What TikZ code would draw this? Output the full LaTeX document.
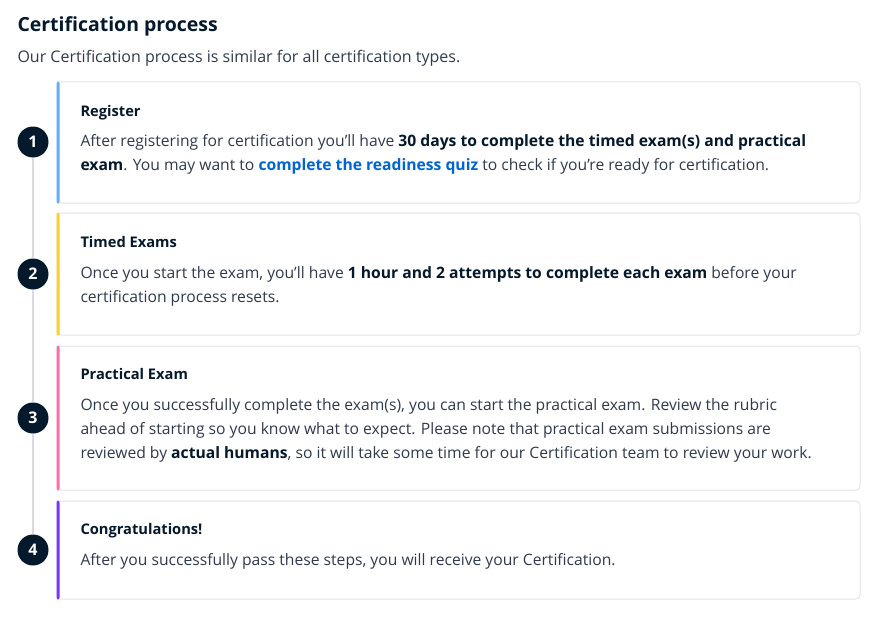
\documentclass[tikz,border=0pt]{standalone}
\usepackage{fontspec}
\setmainfont{Open Sans}
\definecolor{navy}{RGB}{5,25,45}
\definecolor{bodytext}{RGB}{48,58,78}
\definecolor{linkblue}{RGB}{0,101,209}
\definecolor{cardline}{RGB}{228,227,235}
\definecolor{railgray}{RGB}{218,217,229}
\definecolor{stepblue}{RGB}{94,178,252}
\definecolor{stepyellow}{RGB}{255,206,40}
\definecolor{steppink}{RGB}{255,110,168}
\definecolor{steppurple}{RGB}{122,52,255}
\tikzset{every picture/.style={line width=0.75pt}}
\tikzset{
  card/.style={draw=cardline, fill=white, rounded corners=3pt, inner sep=0pt, minimum width=602.25pt},
  stepnum/.style={circle, fill=navy, text=white, inner sep=0pt, minimum size=23.25pt, font=\fontsize{12}{12}\bfseries\selectfont},
  cardhead/.style={anchor=base west, inner sep=0pt, text=navy, font=\fontsize{11}{14}\bfseries\selectfont},
  cardbody/.style={anchor=base west, inner sep=0pt, text=bodytext, align=left, font=\fontsize{11.75}{17.7}\selectfont},
}

\begin{document}
\begin{tikzpicture}[x=0.75pt,y=0.75pt,yscale=-1,xscale=1]
\useasboundingbox (0,0) rectangle (881,617);

% heading
\node [anchor=base west, inner sep=0pt, text=navy, font=\fontsize{14.6}{18}\bfseries\selectfont] (title) at (17,32) {Certification process};
\node [anchor=base west, inner sep=0pt, text=bodytext, font=\fontsize{12}{14}\selectfont] (intro) at (17,63) {Our Certification process is similar for all certification types.};

% cards
\node [card, minimum height=90.75pt] (c1) at (458.5,142.5) {};
\node [card, minimum height=91.5pt] (c2) at (458.5,274) {};
\node [card, minimum height=108pt] (c3) at (458.5,418) {};
\node [card, minimum height=73.5pt] (c4) at (458.5,550) {};

% coloured edges
\fill [stepblue, rounded corners=1.5pt] (c1.north west) rectangle ([xshift=2.25pt]c1.south west);
\fill [stepyellow, rounded corners=1.5pt] (c2.north west) rectangle ([xshift=2.25pt]c2.south west);
\fill [steppink, rounded corners=1.5pt] (c3.north west) rectangle ([xshift=2.25pt]c3.south west);
\fill [steppurple, rounded corners=1.5pt] (c4.north west) rectangle ([xshift=2.25pt]c4.south west);

% step markers
\node [stepnum] (n1) at (33,142) {1};
\node [stepnum] (n2) at (33,274) {2};
\node [stepnum] (n3) at (33,418) {3};
\node [stepnum] (n4) at (33,550) {4};
\draw [railgray, line width=1.5pt] (n1.south) -- (n2.north) (n2.south) -- (n3.north) (n3.south) -- (n4.north);

% Register (body node sits on its last baseline)
\node [cardhead] (t1) at (80,116) {Register};
\node [cardbody] (b1) at (80,170) {After registering for certification you'll have \textbf{\color{navy}30 days to complete the timed exam(s) and practical}\\\textbf{\color{navy}exam}. You may want to \textbf{\color{linkblue}complete the readiness quiz} to check if you're ready for certification.};

% Timed Exams
\node [cardhead] (t2) at (80,247) {Timed Exams};
\node [cardbody] (b2) at (80,302) {Once you start the exam, you'll have \textbf{\color{navy}1 hour and 2 attempts to complete each exam} before your\\certification process resets.};

% Practical Exam
\node [cardhead] (t3) at (80,379) {Practical Exam};
\node [cardbody] (b3) at (80,458) {Once you successfully complete the exam(s), you can start the practical exam. Review the rubric\\ahead of starting so you know what to expect. Please note that practical exam submissions are\\reviewed by \textbf{\color{navy}actual humans}, so it will take some time for our Certification team to review your work.};

% Congratulations!
\node [cardhead] (t4) at (80,534) {Congratulations!};
\node [cardbody] (b4) at (80,565) {After you successfully pass these steps, you will receive your Certification.};

\end{tikzpicture}
\end{document}
